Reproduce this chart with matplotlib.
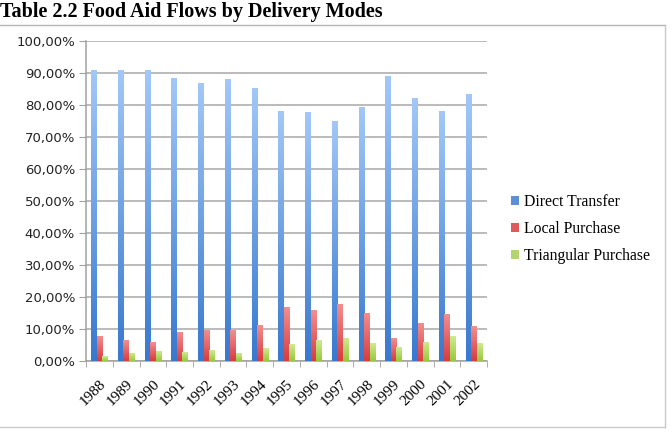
import numpy as np
import matplotlib.pyplot as plt
from matplotlib.colors import LinearSegmentedColormap
from matplotlib.patches import Patch
from matplotlib.lines import Line2D

# data (percent of total food aid)
years = ["1988", "1989", "1990", "1991", "1992", "1993", "1994", "1995",
         "1996", "1997", "1998", "1999", "2000", "2001", "2002"]
direct_transfer = [90.7, 90.8, 90.8, 88.3, 86.8, 87.9, 85.0, 78.0,
                   77.5, 74.8, 79.2, 88.8, 82.1, 77.8, 83.2]
local_purchase = [7.8, 6.5, 5.7, 8.8, 9.6, 9.4, 11.0, 16.8,
                  15.8, 17.8, 14.7, 7.1, 11.6, 14.4, 10.9]
triangular_purchase = [1.3, 2.4, 2.9, 2.7, 3.4, 2.4, 3.8, 5.0,
                       6.5, 7.1, 5.4, 4.2, 5.8, 7.6, 5.4]
series_names = ["Direct Transfer", "Local Purchase", "Triangular Purchase"]

# gradient colours: (bottom, top)
grads = [("#3878cf", "#a3c8f7"), ("#d83b3f", "#f48e8e"), ("#98c83a", "#cfea92")]
legend_cols = ["#5b8fd6", "#e05a5c", "#b3d56a"]

fig = plt.figure(figsize=(6.72, 4.4), dpi=100)
ax = fig.add_axes([0.128, 0.1795, 0.597, 0.7275])

x = np.arange(len(years))
w = 0.205
grad = np.linspace(0, 1, 256).reshape(-1, 1)

for k, vals in enumerate([direct_transfer, local_purchase, triangular_purchase]):
    cmap = LinearSegmentedColormap.from_list("g%d" % k, list(grads[k]))
    for xi, v in zip(x, vals):
        left = xi + (k - 1.5) * w
        ax.imshow(grad, extent=[left, left + w, 0, v], origin="lower",
                  aspect="auto", cmap=cmap, zorder=3, interpolation="bicubic")

ax.set_xlim(-0.5, len(years) - 0.5)
ax.set_ylim(0, 100)
ax.set_yticks(np.arange(0, 101, 10))
ax.set_yticklabels(["%d,00%%" % v for v in range(0, 101, 10)],
                   fontsize=9.5, family="DejaVu Sans", color="#222222")
ax.yaxis.grid(True, color="#a8a8a8", linewidth=1.1)
ax.set_axisbelow(True)

ax.set_xticks(x)
ax.set_xticklabels(years, rotation=45, ha="right", va="top",
                   rotation_mode="anchor", fontsize=11, family="Liberation Serif")
ax.tick_params(axis="x", length=0, pad=12)
ax.set_xticks(np.arange(-0.5, len(years)), minor=True)
ax.tick_params(axis="x", which="minor", length=4, color="#a0a0a0", direction="out")
ax.tick_params(axis="y", length=5, color="#a0a0a0", direction="out", pad=3)

for s in ["top", "right"]:
    ax.spines[s].set_visible(False)
for s in ["left", "bottom"]:
    ax.spines[s].set_color("#a0a0a0")
    ax.spines[s].set_linewidth(1.1)

handles = [Patch(facecolor=c, edgecolor="none") for c in legend_cols]
leg = fig.legend(handles, series_names, loc="upper left",
                 bbox_to_anchor=(0.739, 0.592), frameon=False,
                 prop={"family": "Liberation Serif", "size": 11.3},
                 handlelength=0.5, handleheight=0.5, handletextpad=0.35,
                 labelspacing=0.7)

fig.text(0.0, 0.995, "Table 2.2 Food Aid Flows by Delivery Modes",
         ha="left", va="top", fontsize=14.5, fontweight="bold",
         family="Liberation Serif")

# frame lines around the chart
fig.add_artist(Line2D([0, 0.99], [1 - 25 / 440, 1 - 25 / 440],
                      transform=fig.transFigure, color="#b5b5b5", lw=1))
fig.add_artist(Line2D([0, 0.99], [1 - 427 / 440, 1 - 427 / 440],
                      transform=fig.transFigure, color="#c8c8c8", lw=1))
fig.add_artist(Line2D([665 / 672, 665 / 672], [1 - 427 / 440, 1 - 25 / 440],
                      transform=fig.transFigure, color="#c8c8c8", lw=1))

fig.savefig("out.png", dpi=100)
